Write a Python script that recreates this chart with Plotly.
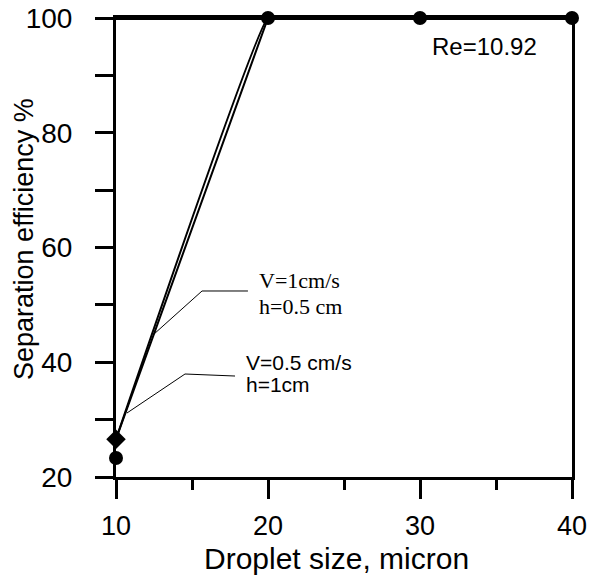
import plotly.graph_objects as go

# Separation efficiency vs droplet size (Re = 10.92)
droplet_size = [10, 20, 30, 40]
eff_v1_h05 = [26.6, 100, 100, 100]    # V=1cm/s, h=0.5 cm (smoothed curve, diamond)
eff_v05_h1 = [26.6, 100, 100, 100]    # V=0.5 cm/s, h=1cm (straight segments)
eff_points = [23.3, 100, 100, 100]    # measured points (circles)

x_ticks = [10, 20, 30, 40]
y_ticks = [20, 40, 60, 80, 100]

SANS = "Liberation Sans, Arial, sans-serif"
SERIF = "Liberation Serif, Times New Roman, serif"

fig = go.Figure()

fig.add_trace(go.Scatter(
    x=droplet_size, y=eff_v05_h1, mode="lines",
    line=dict(color="black", width=2), showlegend=False,
))
fig.add_trace(go.Scatter(
    x=droplet_size, y=eff_v1_h05, mode="lines",
    line=dict(color="black", width=2, shape="spline", smoothing=0.15),
    showlegend=False,
))
fig.add_trace(go.Scatter(
    x=droplet_size[:1], y=eff_v1_h05[:1], mode="markers",
    marker=dict(symbol="diamond", size=15, color="black"),
    cliponaxis=False, showlegend=False,
))
fig.add_trace(go.Scatter(
    x=droplet_size, y=eff_points, mode="markers",
    marker=dict(symbol="circle", size=14, color="black"),
    cliponaxis=False, showlegend=False,
))

axis_common = dict(
    showgrid=False, zeroline=False, showline=True, linecolor="black",
    linewidth=3, mirror=True, ticks="outside", tickcolor="black",
    tickwidth=3, automargin=False,
)

fig.update_xaxes(
    range=[10, 40], tickvals=x_ticks, ticklen=19, ticklabelstandoff=4,
    tickfont=dict(family=SANS, size=27, color="black"),
    minor=dict(tickvals=[15, 25, 35], ticklen=10, tickwidth=3,
               tickcolor="black", ticks="outside"),
    **axis_common,
)
fig.update_yaxes(
    range=[20, 100], tickvals=y_ticks, ticklen=18, ticklabelstandoff=17,
    tickfont=dict(family=SANS, size=28, color="black"),
    minor=dict(tickvals=[30, 50, 70, 90], ticklen=18, tickwidth=3,
               tickcolor="black", ticks="outside"),
    **axis_common,
)

# leader lines from the labels to the curves
leaders = [
    ((15.66, 52.42), (18.68, 52.42), (12.43, 44.75)),
    ((14.54, 37.95), (17.83, 37.60), (10.72, 31.15)),
]
shapes = []
for (xa, ya), (xb, yb), (xc, yc) in leaders:
    shapes.append(dict(type="line", xref="x", yref="y", x0=xa, y0=ya,
                       x1=xb, y1=yb, line=dict(color="black", width=1)))
    shapes.append(dict(type="line", xref="x", yref="y", x0=xa, y0=ya,
                       x1=xc, y1=yc, line=dict(color="black", width=1)))
# heavier top frame line
shapes.append(dict(type="line", xref="paper", yref="paper", x0=0, x1=1,
                   y0=1, y1=1, line=dict(color="black", width=4)))

annotations = [
    dict(x=19.28, y=54.3, text="V=1cm/s", font=dict(family=SERIF, size=22)),
    dict(x=19.28, y=49.8, text="h=0.5 cm", font=dict(family=SERIF, size=22)),
    dict(x=18.42, y=40.0, text="V=0.5 cm/s", font=dict(family=SANS, size=21)),
    dict(x=18.42, y=36.2, text="h=1cm", font=dict(family=SANS, size=21)),
    dict(x=30.66, y=95.0, text="Re=10.92", font=dict(family=SANS, size=24)),
]
for a in annotations:
    a.update(xref="x", yref="y", xanchor="left", yanchor="middle",
             showarrow=False)
    a["font"]["color"] = "black"

annotations += [
    dict(x=0.4846, y=-0.178, xref="paper", yref="paper", text="Droplet size, micron",
         showarrow=False, xanchor="center", yanchor="middle",
         font=dict(family=SANS, size=30, color="black")),
    dict(x=-0.2018, y=0.5185, xref="paper", yref="paper",
         text="Separation efficiency %", textangle=-90, showarrow=False,
         xanchor="center", yanchor="middle",
         font=dict(family=SANS, size=27, color="black")),
]

fig.update_layout(
    width=591, height=578,
    margin=dict(l=116, r=19, t=18, b=101),
    paper_bgcolor="white", plot_bgcolor="white",
    shapes=shapes, annotations=annotations,
)

fig.write_html("out.html")
